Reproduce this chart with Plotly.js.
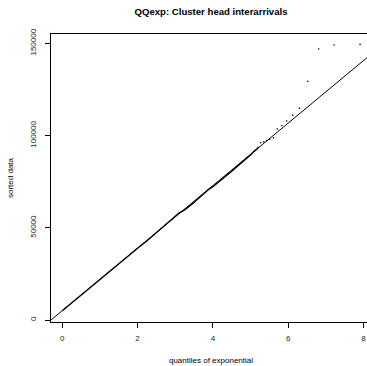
<!DOCTYPE html>
<html>
<head>
<meta charset="utf-8">
<script src="https://cdn.plot.ly/plotly-3.0.1.min.js"></script>
<style>
html,body{margin:0;padding:0;overflow:hidden;background:#fff;}
#chart{width:372px;height:366px;}
</style>
</head>
<body>
<div id="chart"></div>
<script>
// Dense body of the QQ plot (exponential quantiles vs sorted data)
const denseX = [0.00, 0.25, 0.5, 0.75, 1.0, 1.25, 1.5, 1.75, 2.0, 2.25, 2.5, 2.75, 3.0, 3.1, 3.25, 3.4, 3.5, 3.6, 3.75, 3.9, 4.0, 4.1, 4.25, 4.4, 4.5, 4.6, 4.75, 4.9, 5.0, 5.1, 5.2];
const denseY = [5000, 9300, 13400, 17600, 21900, 26300, 30700, 34900, 38900, 43000, 47300, 51700, 56300, 58000, 59700, 62000, 63700, 65700, 68600, 71000, 72300, 73900, 76500, 79100, 80700, 82500, 85000, 87900, 89500, 91600, 93200];
// Upper tail, individual points
const tailX = [5.20, 5.27, 5.35, 5.43, 5.51, 5.61, 5.71, 5.83, 5.96, 6.12, 6.30, 6.52, 6.81, 7.22, 7.91];
const tailY = [93600, 96150, 96600, 97300, 98000, 98860, 103580, 105480, 107920, 111010, 114860, 129450, 146960, 149130, 149500];
// Reference line
const refX = [-0.3, 8.2];
const refY = [0, 144070];
const xTicks = [0, 2, 4, 6, 8];
const yTicks = [0, 50000, 100000, 150000];

const font = "Liberation Sans, Arial, Helvetica, sans-serif";
const traces = [
  {x: refX, y: refY, mode: 'lines', line: {color: '#000', width: 1}, hoverinfo: 'skip'},
  {x: denseX, y: denseY, mode: 'lines', line: {color: '#000', width: 1.4}},
  {x: tailX, y: tailY, mode: 'markers', marker: {color: '#000', size: 1.6}}
];
const layout = {
  width: 372, height: 366,
  margin: {l: 51, r: 1, t: 34, b: 44},
  showlegend: false,
  paper_bgcolor: '#fff', plot_bgcolor: '#fff',
  font: {family: font, color: '#000', size: 8},
  title: {text: '<b>QQexp: Cluster head interarrivals</b>', font: {family: font, size: 9.6, color: '#000'}, x: 0.5, xref: 'paper', y: 1, yref: 'container', yanchor: 'top', pad: {t: 8}},
  xaxis: {
    range: [-0.3, 8.2], tickvals: xTicks, ticktext: xTicks.map(String),
    showgrid: false, zeroline: false, showline: true, linecolor: '#000', linewidth: 1, mirror: true,
    ticks: 'outside', ticklen: 5, tickcolor: '#000', tickfont: {size: 8, color: '#222'}, ticklabelstandoff: 3,
    title: {text: 'quantiles of exponential', font: {size: 8, color: '#000'}, standoff: 15}
  },
  yaxis: {
    range: [-1085, 155100], tickvals: yTicks, ticktext: yTicks.map(String), tickangle: -90,
    showgrid: false, zeroline: false, showline: true, linecolor: '#000', linewidth: 1, mirror: true,
    ticks: 'outside', ticklen: 5, tickcolor: '#000', tickfont: {size: 8, color: '#222'}, ticklabelstandoff: 6,
    title: {text: 'sorted data', font: {size: 8, color: '#000'}, standoff: 13}
  }
};
Plotly.newPlot('chart', traces, layout, {staticPlot: true, displayModeBar: false});
</script>
</body>
</html>
